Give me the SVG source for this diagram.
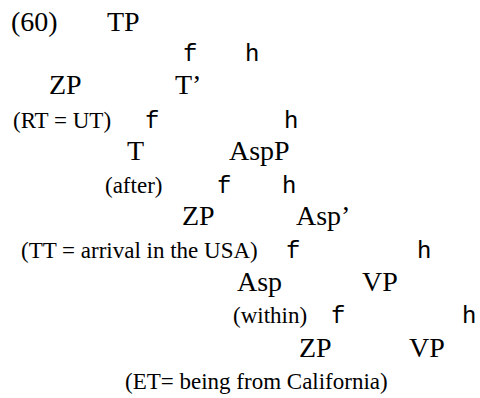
<svg xmlns="http://www.w3.org/2000/svg" width="480" height="398" viewBox="0 0 480 398">
<style>
.n{font-family:"Liberation Serif","Times New Roman",serif;font-size:28px;fill:#000}
.l{font-family:"Liberation Serif","Times New Roman",serif;font-size:23px;fill:#000}
.b{font-family:"Liberation Mono","Courier New",monospace;font-size:24px;fill:#000}
</style>
<rect width="480" height="398" fill="#fff"/>
<g id="num"><text class="n" x="11" y="31">(60)</text></g>
<g id="TP"><text class="n" x="107" y="31">TP</text></g>
<g id="ZP1"><text class="n" x="49" y="94">ZP</text><text class="l" x="13" y="128">(RT = UT)</text></g>
<g id="Tbar"><text class="n" x="175" y="94">T’</text></g>
<g id="T"><text class="n" x="127" y="160">T</text><text class="l" x="105" y="193">(after)</text></g>
<g id="AspP"><text class="n" x="229" y="160">AspP</text></g>
<g id="ZP2"><text class="n" x="182" y="225">ZP</text><text class="l" x="21" y="258">(TT = arrival in the USA)</text></g>
<g id="Aspbar"><text class="n" x="296" y="225">Asp’</text></g>
<g id="Asp"><text class="n" x="237" y="291">Asp</text><text class="l" x="233" y="323">(within)</text></g>
<g id="VP1"><text class="n" x="362" y="291">VP</text></g>
<g id="ZP3"><text class="n" x="299" y="357">ZP</text><text class="l" x="125" y="389">(ET= being from California)</text></g>
<g id="VP2"><text class="n" x="409" y="357">VP</text></g>
<g id="connectors">
<text class="b" x="183" y="61">f</text><text class="b" x="245" y="61">h</text>
<text class="b" x="145" y="128">f</text><text class="b" x="284" y="128">h</text>
<text class="b" x="217" y="193">f</text><text class="b" x="282" y="193">h</text>
<text class="b" x="286" y="258">f</text><text class="b" x="417" y="258">h</text>
<text class="b" x="331" y="323">f</text><text class="b" x="462" y="323">h</text>
</g>
</svg>
